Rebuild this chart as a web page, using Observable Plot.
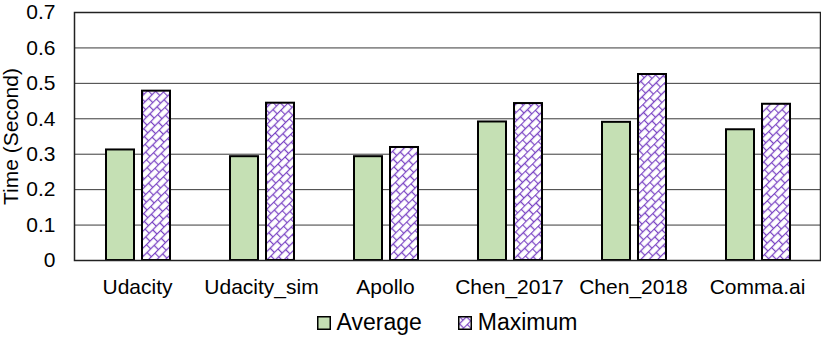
<!DOCTYPE html>
<html>
<head>
<meta charset="utf-8">
<script src="https://cdn.jsdelivr.net/npm/d3@7"></script>
<script src="https://cdn.jsdelivr.net/npm/@observablehq/plot@0.6"></script>
<style>
  html, body { margin: 0; padding: 0; background: #fff; }
  body { width: 821px; height: 340px; overflow: hidden; font-family: "Liberation Sans", Arial, sans-serif; }
  #legend { display: flex; justify-content: center; align-items: center; margin-left: 74px; width: 746px; height: 35px; font-size: 23px; color: #000; }
  .item { display: flex; align-items: center; margin: 0 18px; }
</style>
</head>
<body>
<div id="chart"></div>
<div id="legend"></div>
<script>
const categories = ["Udacity", "Udacity_sim", "Apollo", "Chen_2017", "Chen_2018", "Comma.ai"];
const average = [0.312, 0.293, 0.293, 0.391, 0.390, 0.369];
const maximum = [0.478, 0.444, 0.319, 0.443, 0.525, 0.441];
const seriesNames = ["Average", "Maximum"];
const yTicks = [0, 0.1, 0.2, 0.3, 0.4, 0.5, 0.6, 0.7];

const avgData = categories.map((c, i) => ({category: c, value: average[i]}));
const maxData = categories.map((c, i) => ({category: c, value: maximum[i]}));

const plot = Plot.plot({
  width: 821,
  height: 305,
  marginLeft: 74,
  marginRight: 1,
  marginTop: 12,
  marginBottom: 45,
  style: {fontFamily: "'Liberation Sans', Arial, sans-serif", fontSize: "21px", color: "#000", background: "#fff", overflow: "visible"},
  x: {domain: categories, padding: 0, label: null, tickSize: 0, tickPadding: 19},
  y: {domain: [0, 0.7], ticks: yTicks, tickFormat: d => d === 0 ? "0" : d3.format(".1f")(d), tickSize: 0, tickPadding: 19, label: "Time (Second)", labelAnchor: "center", labelArrow: "none", labelOffset: 71},
  marks: [
    Plot.gridY(yTicks, {stroke: "#3a3a3a", strokeOpacity: 1, strokeWidth: 1}),
    Plot.barY(avgData, {x: "category", y: "value", fill: "#c5e0b4", stroke: "#000", strokeWidth: 2, insetLeft: 31, insetRight: 65}),
    Plot.barY(maxData, {x: "category", y: "value", fill: "url(#hatch)", stroke: "#000", strokeWidth: 2, insetLeft: 67, insetRight: 29}),
    Plot.frame({stroke: "#222", strokeWidth: 1.5})
  ]
});

const svgNS = "http://www.w3.org/2000/svg";
const defs = document.createElementNS(svgNS, "defs");
defs.innerHTML = `
  <pattern id="hatch" patternUnits="userSpaceOnUse" width="10" height="12" patternTransform="rotate(-45)">
    <rect width="10" height="12" fill="#fff"/>
    <line x1="0" y1="0.5" x2="10" y2="0.5" stroke="#7b45c4" stroke-width="1.3"/>
    <line x1="0" y1="6.5" x2="10" y2="6.5" stroke="#7b45c4" stroke-width="1.3"/>
    <line x1="0.5" y1="0" x2="0.5" y2="6" stroke="#7b45c4" stroke-width="1.3"/>
    <line x1="5.5" y1="6" x2="5.5" y2="12" stroke="#7b45c4" stroke-width="1.3"/>
  </pattern>`;
plot.insertBefore(defs, plot.firstChild);
document.getElementById("chart").appendChild(plot);

const legend = document.getElementById("legend");
const fills = ["#c5e0b4", "url(#hatch)"];
seriesNames.forEach((name, i) => {
  const item = document.createElement("div");
  item.className = "item";
  const sw = document.createElementNS(svgNS, "svg");
  sw.setAttribute("width", "14");
  sw.setAttribute("height", "14");
  sw.style.marginRight = "6px";
  sw.innerHTML = `<rect x="0.75" y="0.75" width="12.5" height="12.5" fill="${fills[i]}" stroke="#000" stroke-width="1.5"/>`;
  const label = document.createElement("span");
  label.textContent = name;
  item.appendChild(sw);
  item.appendChild(label);
  legend.appendChild(item);
});
</script>
</body>
</html>
